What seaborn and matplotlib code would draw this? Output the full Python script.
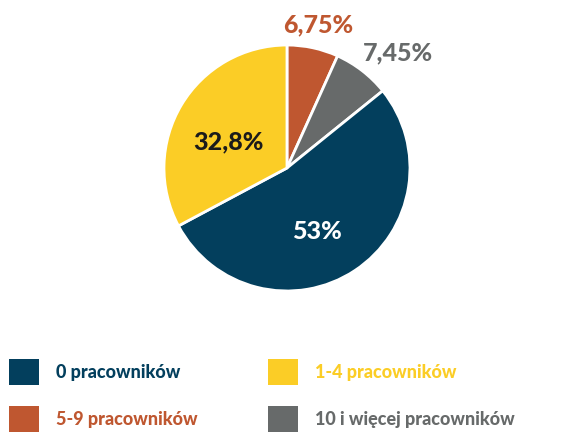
import matplotlib
matplotlib.use('Agg')
import numpy as np
import seaborn as sns
import matplotlib.pyplot as plt
from matplotlib.patches import Patch

categories = ["0 pracowników", "1-4 pracowników", "5-9 pracowników", "10 i więcej pracowników"]
shares = [53, 32.8, 6.75, 7.45]
labels = ["53%", "32,8%", "6,75%", "7,45%"]
colors = ["#033f5d", "#fbcd26", "#bf5730", "#676a6a"]
label_colors = ["white", "#1b1b1b", "#bf5730", "#676a6a"]

sns.set_theme(style="white")
plt.rcParams['font.family'] = ['Lato', 'DejaVu Sans']

fig = plt.figure(figsize=(5.75, 4.33), dpi=100)
ax = fig.add_axes([0.2852, 0.328, 0.4278, 0.568])

# draw clockwise from top: 5-9, 10+, 0, 1-4
order = [2, 3, 0, 1]
wedges, _ = ax.pie([shares[i] for i in order], colors=[colors[i] for i in order],
                   startangle=90, counterclock=False, radius=1,
                   wedgeprops=dict(edgecolor="white", linewidth=2))
ax.set_xlim(-1, 1)
ax.set_ylim(-1, 1)
ax.set_aspect("auto")

# label radius and angle shift per slice (in draw order)
rad = [1.19, 1.30, 0.57, 0.52]
shift = [0, -6, -8, 7]
for w, i, r, s in zip(wedges, order, rad, shift):
    ang = np.deg2rad((w.theta1 + w.theta2) / 2 + s)
    ax.text(r * np.cos(ang), r * np.sin(ang), labels[i], ha="center", va="center",
            color=label_colors[i], fontsize=18, fontweight="black", clip_on=False)

# legend laid out row-wise: 0 | 1-4, then 5-9 | 10+
leg_order = [0, 2, 1, 3]
handles = [Patch(facecolor=colors[i], edgecolor="none") for i in leg_order]
leg = fig.legend(handles, [categories[i] for i in leg_order], ncol=2, loc="upper left",
                 bbox_to_anchor=(0.007, 0.183), frameon=False,
                 prop=dict(size=13, weight="black"),
                 handlelength=1.65, handleheight=1.8, handletextpad=0.95,
                 labelspacing=1.2, columnspacing=3.9, borderaxespad=0, borderpad=0.3)
for t, i in zip(leg.get_texts(), leg_order):
    t.set_color(colors[i])

fig.savefig("out.png", dpi=100)
